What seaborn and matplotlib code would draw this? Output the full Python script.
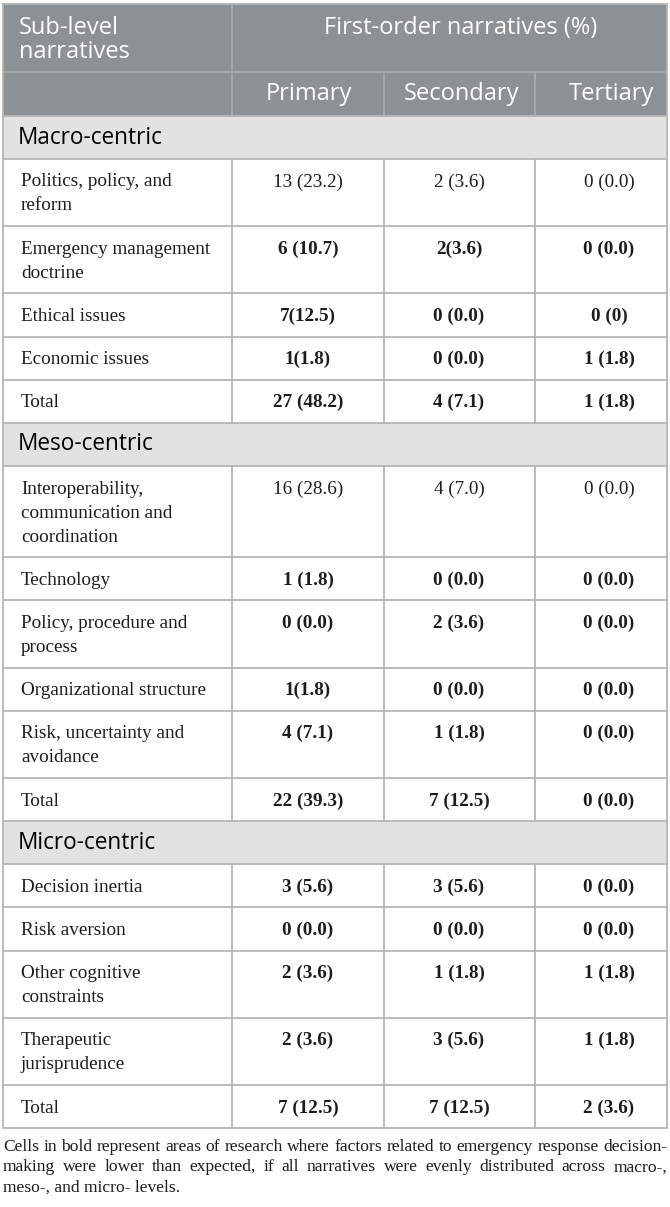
import matplotlib
matplotlib.use("Agg")
import matplotlib.pyplot as plt
import seaborn as sns
from matplotlib.patches import Rectangle

# ---- data ----
groups = ["Macro-centric", "Meso-centric", "Micro-centric"]
columns = ["Primary", "Secondary", "Tertiary"]

macro_labels = ["Politics, policy, and\nreform", "Emergency management\ndoctrine",
                "Ethical issues", "Economic issues", "Total"]
macro_primary = ["13 (23.2)", "6 (10.7)", "7(12.5)", "1(1.8)", "27 (48.2)"]
macro_secondary = ["2 (3.6)", "2(3.6)", "0 (0.0)", "0 (0.0)", "4 (7.1)"]
macro_tertiary = ["0 (0.0)", "0 (0.0)", "0 (0)", "1 (1.8)", "1 (1.8)"]
macro_bold = [False, True, True, True, True]

meso_labels = ["Interoperability,\ncommunication and\ncoordination", "Technology",
               "Policy, procedure and\nprocess", "Organizational structure",
               "Risk, uncertainty and\navoidance", "Total"]
meso_primary = ["16 (28.6)", "1 (1.8)", "0 (0.0)", "1(1.8)", "4 (7.1)", "22 (39.3)"]
meso_secondary = ["4 (7.0)", "0 (0.0)", "2 (3.6)", "0 (0.0)", "1 (1.8)", "7 (12.5)"]
meso_tertiary = ["0 (0.0)", "0 (0.0)", "0 (0.0)", "0 (0.0)", "0 (0.0)", "0 (0.0)"]
meso_bold = [False, True, True, True, True, True]

micro_labels = ["Decision inertia", "Risk aversion", "Other cognitive\nconstraints",
                "Therapeutic\njurisprudence", "Total"]
micro_primary = ["3 (5.6)", "0 (0.0)", "2 (3.6)", "2 (3.6)", "7 (12.5)"]
micro_secondary = ["3 (5.6)", "0 (0.0)", "1 (1.8)", "3 (5.6)", "7 (12.5)"]
micro_tertiary = ["0 (0.0)", "0 (0.0)", "1 (1.8)", "1 (1.8)", "2 (3.6)"]
micro_bold = [True, True, True, True, True]

footnote_lines = [
    "Cells in bold represent areas of research where factors related to emergency response decision-",
    "making were lower than expected, if all narratives were evenly distributed across macro-,",
    "meso-, and micro- levels.",
]

tables = [
    (macro_labels, macro_primary, macro_secondary, macro_tertiary, macro_bold),
    (meso_labels, meso_primary, meso_secondary, meso_tertiary, meso_bold),
    (micro_labels, micro_primary, micro_secondary, micro_tertiary, micro_bold),
]

# ---- style ----
sns.set_theme(style="white")
plt.rcParams["font.family"] = ["Open Sans", "DejaVu Sans"]

HEAD_BG = "#8b9194"
BAND_BG = "#e1e3e2"
GRID = "#b3b6b5"
TXT = "#1c1c1c"
SERIF = ["Liberation Serif", "DejaVu Serif"]
SANS = ["Open Sans", "DejaVu Sans"]
HEAD_FS = 17
BAND_FS = 16.3
BODY_FS = 13.8
NOTE_FS = 12.6

W, H = 670, 1207
fig = plt.figure(figsize=(W / 100, H / 100), dpi=100)
ax = fig.add_axes([0, 0, 1, 1])
ax.set_xlim(0, W)
ax.set_ylim(H, 0)
ax.axis("off")

col_x = [3, 232, 384, 535, 667]
val_cx = [308, 459, 609]
top = 4
head1, head2 = 68, 44
band_h = 43
base_h, line_h = 43.2, 24
lw = 1.3

# header
ax.add_patch(Rectangle((col_x[0], top), col_x[-1] - col_x[0], head1 + head2,
                       facecolor=HEAD_BG, edgecolor="none"))
ax.text(19, 28, "Sub-level", ha="left", va="center",
        color="white", fontsize=HEAD_FS, family=SANS)
ax.text(19, 52, "narratives", ha="left", va="center",
        color="white", fontsize=HEAD_FS, family=SANS)
ax.text(461, 28, "First-order narratives (%)", ha="center", va="center",
        color="white", fontsize=HEAD_FS, family=SANS)
y2 = top + head1
for cx, c in zip([309, 462, 611], columns):
    ax.text(cx, y2 + head2 / 2, c, ha="center", va="center", color="white",
            fontsize=HEAD_FS, family=SANS)
hl = "#a7acaf"
ax.plot([col_x[0], col_x[-1]], [y2, y2], color=hl, lw=lw)
ax.plot([col_x[1], col_x[1]], [top, top + head1 + head2], color=hl, lw=lw)
for x in col_x[2:4]:
    ax.plot([x, x], [y2, y2 + head2], color=hl, lw=lw)

y = top + head1 + head2
hlines = [y]
for g, (labels, p, s, t, bold) in zip(groups, tables):
    ax.add_patch(Rectangle((col_x[0], y), col_x[-1] - col_x[0], band_h,
                           facecolor=BAND_BG, edgecolor="none"))
    ax.text(18, y + band_h / 2, g, ha="left", va="center", color="black",
            fontsize=BAND_FS, family=SANS)
    y += band_h
    hlines.append(y)
    for lab, a, b, c, bd in zip(labels, p, s, t, bold):
        n = lab.count("\n") + 1
        rh = base_h + line_h * (n - 1)
        for i, line in enumerate(lab.split("\n")):
            ax.text(21, y + 23 + i * line_h, line, ha="left", va="center",
                    color=TXT, fontsize=BODY_FS, family=SERIF)
        for cx, v in zip(val_cx, [a, b, c]):
            ax.text(cx, y + 23, v, ha="center", va="center", color=TXT,
                    fontsize=BODY_FS, family=SERIF,
                    fontweight="bold" if bd else "normal")
        for x in col_x[1:4]:
            ax.plot([x, x], [y, y + rh], color=GRID, lw=lw)
        y += rh
        hlines.append(y)
bottom = y
for yy in hlines:
    ax.plot([col_x[0], col_x[-1]], [yy, yy], color=GRID, lw=lw)
ax.plot([col_x[0], col_x[0]], [top, bottom], color=GRID, lw=lw)
ax.plot([col_x[-1], col_x[-1]], [top, bottom], color=GRID, lw=lw)
ax.plot([col_x[0], col_x[-1]], [top, top], color=GRID, lw=lw)

# footnote, justified except last line
fig.canvas.draw()
renderer = fig.canvas.get_renderer()


def width_of(s, fs):
    t = ax.text(0, 0, s, fontsize=fs, family=SERIF)
    bb = t.get_window_extent(renderer)
    t.remove()
    return bb.width


fy = bottom + 19
left, right = 3, 667
for k, line in enumerate(footnote_lines):
    words = line.split(" ")
    if k == len(footnote_lines) - 1:
        ax.text(left, fy, line, ha="left", va="center", color=TXT,
                fontsize=NOTE_FS, family=SERIF)
    else:
        fs = NOTE_FS
        widths = [width_of(w_, fs) for w_ in words]
        # shrink slightly if the words do not fit with a minimal gap
        while sum(widths) + 2.5 * (len(words) - 1) > right - left:
            fs -= 0.1
            widths = [width_of(w_, fs) for w_ in words]
        gap = (right - left - sum(widths)) / (len(words) - 1)
        x = left
        for w_, ww in zip(words, widths):
            ax.text(x, fy, w_, ha="left", va="center", color=TXT,
                    fontsize=fs, family=SERIF)
            x += ww + gap
    fy += 20

fig.savefig("out.png", dpi=100)
plt.close(fig)
